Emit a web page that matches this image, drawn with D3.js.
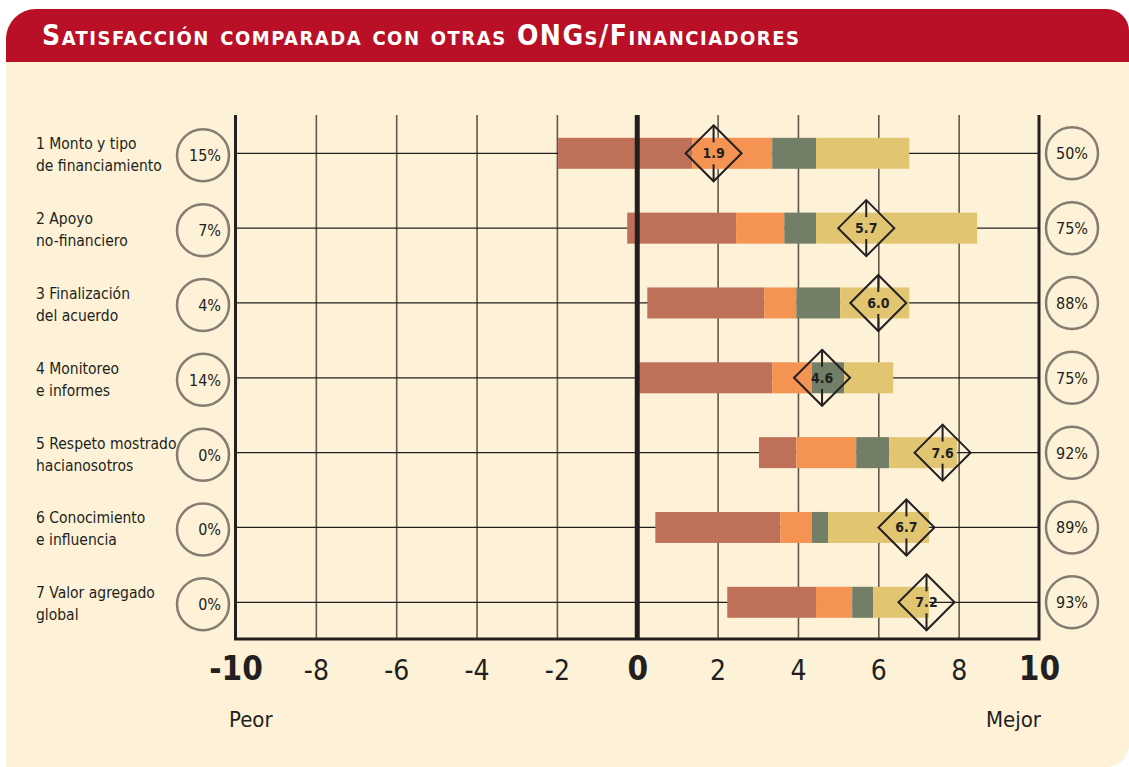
<!DOCTYPE html>
<html>
<head>
<meta charset="utf-8">
<script src="https://cdn.jsdelivr.net/npm/d3@7/dist/d3.min.js"></script>
<style>
  html, body { margin: 0; padding: 0; background: #ffffff; }
  svg { display: block; }
  text { font-family: "Liberation Sans Narrow", "DejaVu Sans Condensed", "Liberation Sans", sans-serif; }
</style>
</head>
<body>
<svg id="chart" width="1129" height="767"></svg>
<script>
// ---------- DATA ----------
const title = "Satisfacción comparada con otras ONGs/Financiadores";
const categories = ["1", "2", "3", "4", "5", "6", "7"];
const labelLine1 = ["1 Monto y tipo", "2 Apoyo", "3 Finalización", "4 Monitoreo", "5 Respeto mostrado", "6 Conocimiento", "7 Valor agregado"];
const labelLine2 = ["de financiamiento", "no-financiero", "del acuerdo", "e informes", "hacianosotros", "e influencia", "global"];
const leftPct = ["15%", "7%", "4%", "14%", "0%", "0%", "0%"];
const rightPct = ["50%", "75%", "88%", "75%", "92%", "89%", "93%"];
const segStart = [-1.97, -0.25, 0.25, 0.05, 3.03, 0.45, 2.24];
const redEnd = [1.37, 2.46, 3.16, 3.36, 3.96, 3.56, 4.45];
const orangeEnd = [3.36, 3.66, 3.96, 4.35, 5.45, 4.35, 5.35];
const greenEnd = [4.45, 4.45, 5.05, 5.15, 6.27, 4.75, 5.87];
const yellowEnd = [6.77, 8.46, 6.77, 6.37, 7.96, 7.26, 7.26];
const scores = [1.9, 5.7, 6.0, 4.6, 7.6, 6.7, 7.2];
const tickValues = [-10, -8, -6, -4, -2, 0, 2, 4, 6, 8, 10];
const boldTicks = [-10, 0, 10];
const axisEnds = ["Peor", "Mejor"];

// ---------- STYLE ----------
const C = {
  cream: "#fdf2d7", header: "#b91027", ink: "#231f20", grid: "#62574d",
  circle: "#857c72", red: "#bf7059", orange: "#f59352", green: "#737e66", yellow: "#e1c571"
};

const svg = d3.select("#chart");
const x = d3.scaleLinear().domain([-10, 10]).range([235.5, 1039]);
const y = d3.scalePoint().domain(categories).range([153.3, 602.3]);
const plotTop = 115, plotBottom = 639;

// background panel + header
svg.append("path")
  .attr("d", "M6,767 L6,39 A30,30 0 0 1 36,9 L1107,9 A22,22 0 0 1 1129,31 L1129,745 A22,22 0 0 1 1107,767 Z")
  .attr("fill", C.cream);
svg.append("path")
  .attr("d", "M6,62 L6,39 A30,30 0 0 1 36,9 L1107,9 A22,22 0 0 1 1129,31 L1129,62 Z")
  .attr("fill", C.header);
svg.append("text")
  .attr("x", 42).attr("y", 45)
  .attr("fill", "#ffffff")
  .attr("font-size", 28).attr("font-weight", "bold")
  .style("font-variant", "small-caps")
  .attr("textLength", 757).attr("lengthAdjust", "spacing")
  .text(title);

// vertical gridlines (via axis)
const gridAxis = d3.axisBottom(x)
  .tickValues(tickValues.filter(v => v !== 0 && Math.abs(v) !== 10))
  .tickSize(plotBottom - plotTop).tickFormat("");
const gridG = svg.append("g").attr("transform", `translate(0,${plotTop})`).call(gridAxis);
gridG.select(".domain").remove();
gridG.selectAll(".tick line").attr("stroke", C.grid).attr("stroke-width", 1.6);

// horizontal row lines
svg.append("g").selectAll("line").data(categories).join("line")
  .attr("x1", x(-10)).attr("x2", x(10))
  .attr("y1", d => y(d)).attr("y2", d => y(d))
  .attr("stroke", C.ink).attr("stroke-width", 1.3);

// stacked bars
const barH = 31;
const segments = categories.map((c, i) => [
  { c, a: segStart[i], b: redEnd[i], col: C.red },
  { c, a: redEnd[i], b: orangeEnd[i], col: C.orange },
  { c, a: orangeEnd[i], b: greenEnd[i], col: C.green },
  { c, a: greenEnd[i], b: yellowEnd[i], col: C.yellow }
]).flat();
svg.append("g").selectAll("rect").data(segments).join("rect")
  .attr("x", d => x(d.a)).attr("width", d => x(d.b) - x(d.a))
  .attr("y", d => y(d.c) - barH / 2).attr("height", barH)
  .attr("fill", d => d.col);

// zero line + frame
svg.append("line").attr("x1", x(0)).attr("x2", x(0)).attr("y1", plotTop).attr("y2", plotBottom)
  .attr("stroke", C.ink).attr("stroke-width", 5);
svg.append("path")
  .attr("d", `M${x(-10)},${plotTop} L${x(-10)},${plotBottom} L${x(10)},${plotBottom} L${x(10)},${plotTop}`)
  .attr("fill", "none").attr("stroke", C.ink).attr("stroke-width", 3);

// diamonds
const dh = 28;
const dG = svg.append("g").selectAll("g").data(categories).join("g")
  .attr("transform", (d, i) => `translate(${x(scores[i])},${y(d)})`);
dG.append("path")
  .attr("d", `M0,${-dh} L${dh},0 L0,${dh} L${-dh},0 Z`)
  .attr("fill", "none").attr("stroke", C.ink).attr("stroke-width", 2);
dG.append("line").attr("x1", 0).attr("x2", 0).attr("y1", -dh).attr("y2", -11)
  .attr("stroke", C.ink).attr("stroke-width", 2);
dG.append("line").attr("x1", 0).attr("x2", 0).attr("y1", 11).attr("y2", dh)
  .attr("stroke", C.ink).attr("stroke-width", 2);
dG.append("text").attr("text-anchor", "middle").attr("y", 5)
  .attr("font-size", 14).attr("font-weight", "bold").attr("fill", C.ink)
  .text((d, i) => scores[i].toFixed(1));

// circles with percentages
const lc = svg.append("g").selectAll("g").data(categories).join("g")
  .attr("transform", d => `translate(203,${y(d) + 2})`);
lc.append("circle").attr("r", 26).attr("fill", "none").attr("stroke", C.circle).attr("stroke-width", 2.5);
lc.append("text").attr("x", 18).attr("y", 6).attr("text-anchor", "end")
  .attr("font-size", 16).attr("fill", C.ink).text((d, i) => leftPct[i]);
const rc = svg.append("g").selectAll("g").data(categories).join("g")
  .attr("transform", d => `translate(1072,${y(d)})`);
rc.append("circle").attr("r", 26).attr("fill", C.cream).attr("stroke", C.circle).attr("stroke-width", 2.5);
rc.append("text").attr("y", 6).attr("text-anchor", "middle")
  .attr("font-size", 16).attr("fill", C.ink).text((d, i) => rightPct[i]);

// category labels
const lab = svg.append("g").selectAll("text").data(categories).join("text")
  .attr("font-size", 15.5).attr("fill", C.ink);
lab.append("tspan").attr("x", 36).attr("y", d => y(d) - 4).text((d, i) => labelLine1[i]);
lab.append("tspan").attr("x", 36).attr("y", d => y(d) + 18).text((d, i) => labelLine2[i]);

// tick labels (axis)
const tickAxis = d3.axisBottom(x).tickValues(tickValues).tickSize(0).tickFormat(d3.format("d"));
const tg = svg.append("g").call(tickAxis);
tg.select(".domain").remove();
tg.selectAll(".tick text")
  .attr("y", 680).attr("dy", 0)
  .attr("fill", C.ink)
  .style("font-family", '"Liberation Sans Narrow", "DejaVu Sans Condensed", sans-serif')
  .attr("font-size", d => boldTicks.includes(d) ? 33 : 28)
  .attr("font-weight", d => boldTicks.includes(d) ? "bold" : "normal")
  .text(d => d3.format("d")(d).replace("−", "-"));

svg.append("text").attr("x", 229).attr("y", 727).attr("font-size", 22).attr("fill", C.ink).text(axisEnds[0]);
svg.append("text").attr("x", 1041).attr("y", 727).attr("text-anchor", "end").attr("font-size", 22).attr("fill", C.ink).text(axisEnds[1]);
</script>
</body>
</html>
